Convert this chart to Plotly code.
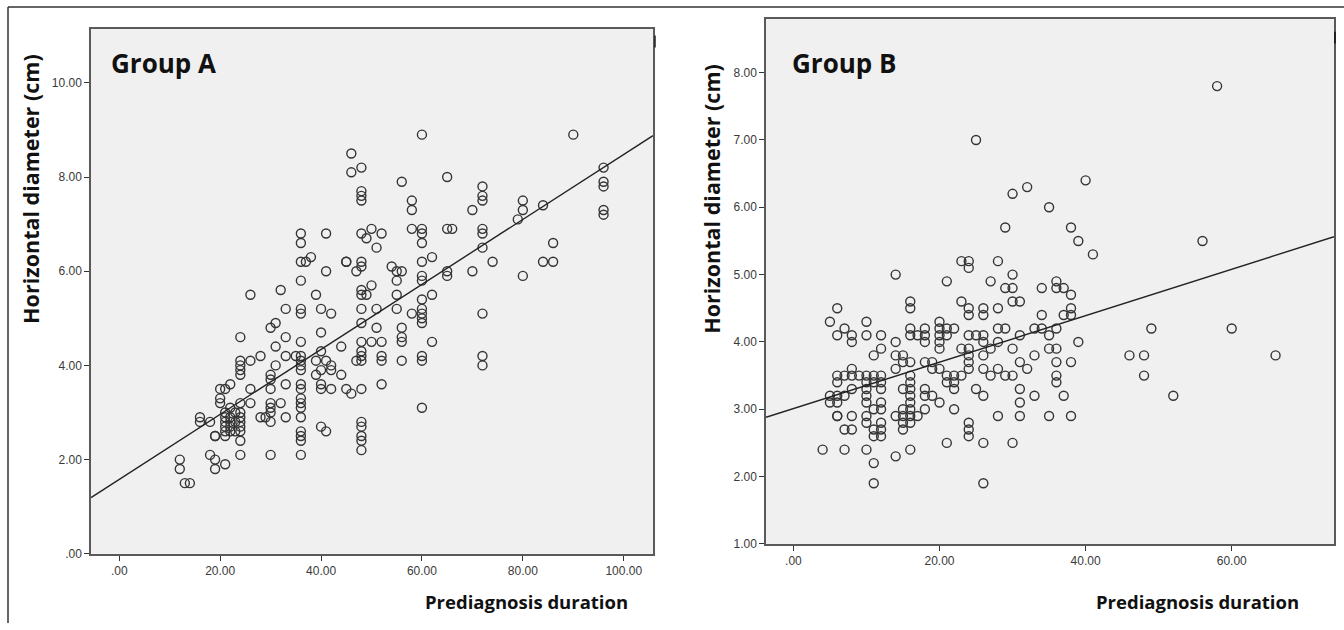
import plotly.graph_objects as go

# ---------------- Group A: prediagnosis duration vs horizontal diameter ----------------
a_cols = {
    12: [2.0, 1.8],
    13: [1.5],
    14: [1.5],
    16: [2.9, 2.8],
    18: [2.8, 2.1],
    19: [2.5, 2.5, 2.0, 1.8],
    20: [3.5, 3.3, 3.2],
    21: [3.5, 3.0, 2.9, 2.8, 2.7, 2.6, 2.5, 1.9],
    22: [3.6, 3.1, 2.9, 2.8, 2.7, 2.6],
    23: [3.0, 2.8, 2.6],
    24: [4.6, 4.1, 4.0, 3.9, 3.8, 3.2, 3.0, 2.9, 2.8, 2.7, 2.6, 2.4, 2.1],
    26: [5.5, 4.1, 3.5, 3.2],
    28: [4.2, 2.9],
    29: [2.9],
    30: [4.8, 3.8, 3.7, 3.5, 3.2, 3.1, 3.0, 2.8, 2.1],
    31: [4.9, 4.4, 4.0],
    32: [5.6, 3.2],
    33: [5.2, 4.6, 4.2, 3.6, 2.9],
    35: [4.2],
    36: [6.8, 6.6, 6.2, 5.8, 5.2, 5.1, 4.5, 4.2, 4.1, 4.0, 3.9, 3.6, 3.5, 3.3,
         3.2, 3.1, 2.9, 2.6, 2.5, 2.4, 2.1],
    37: [6.2],
    38: [6.3],
    39: [5.5, 4.1, 3.8],
    40: [5.2, 4.7, 4.3, 3.9, 3.6, 3.5, 2.7],
    41: [6.8, 6.0, 4.1, 2.6],
    42: [5.1, 4.0, 3.9, 3.5],
    44: [4.4, 3.8],
    45: [6.2, 6.2, 3.5],
    46: [8.5, 8.1, 3.4],
    47: [6.0, 4.1],
    48: [8.2, 7.7, 7.6, 7.5, 6.8, 6.2, 6.1, 5.6, 5.5, 5.2, 4.9, 4.5, 4.3, 4.2,
         4.1, 3.5, 2.8, 2.7, 2.5, 2.4, 2.2],
    49: [6.7, 5.5],
    50: [6.9, 5.7, 4.5],
    51: [6.5, 5.2, 4.8],
    52: [6.8, 4.5, 4.2, 4.1, 3.6],
    54: [6.1],
    55: [6.0, 5.8, 5.5, 5.2],
    56: [7.9, 6.0, 4.8, 4.6, 4.5, 4.1],
    58: [7.5, 7.3, 6.9, 5.1],
    60: [8.9, 6.9, 6.8, 6.6, 6.2, 5.9, 5.8, 5.4, 5.2, 5.1, 5.0, 4.9, 4.2, 4.1, 3.1],
    62: [6.3, 5.5, 4.5],
    65: [8.0, 6.9, 6.0, 5.9],
    66: [6.9],
    70: [7.3, 6.0],
    72: [7.8, 7.6, 7.5, 6.9, 6.8, 6.5, 5.1, 4.2, 4.0],
    74: [6.2],
    79: [7.1],
    80: [7.5, 7.3, 5.9],
    84: [7.4, 6.2],
    86: [6.6, 6.2],
    90: [8.9],
    96: [8.2, 7.9, 7.8, 7.3, 7.2],
}
a_duration = [d for d, vals in a_cols.items() for _ in vals]
a_diameter = [v for vals in a_cols.values() for v in vals]
a_fit_intercept = 1.58
a_fit_slope = 0.069

# ---------------- Group B ----------------
b_cols = {
    4: [2.4],
    5: [4.3, 3.2, 3.1],
    6: [4.5, 4.1, 3.5, 3.4, 3.2, 3.1, 2.9, 2.9],
    7: [4.2, 3.5, 3.2, 2.7, 2.4],
    8: [4.1, 4.0, 3.6, 3.5, 3.3, 2.9, 2.7],
    9: [3.5],
    10: [4.3, 4.1, 3.5, 3.4, 3.3, 3.2, 3.1, 2.9, 2.8, 2.4],
    11: [3.8, 3.5, 3.4, 3.0, 2.7, 2.6, 2.2, 1.9],
    12: [4.1, 3.9, 3.5, 3.4, 3.3, 3.1, 3.0, 2.8, 2.7, 2.6],
    14: [5.0, 4.0, 3.8, 3.6, 2.9, 2.3],
    15: [3.8, 3.7, 3.3, 3.0, 2.9, 2.8, 2.7],
    16: [4.6, 4.5, 4.2, 4.1, 3.7, 3.5, 3.4, 3.3, 3.2, 3.1, 3.0, 2.9, 2.8, 2.4],
    17: [4.1, 2.9],
    18: [4.2, 4.1, 4.0, 3.7, 3.3, 3.2, 3.0],
    19: [3.7, 3.6, 3.2],
    20: [4.3, 4.2, 4.1, 4.0, 3.9, 3.6, 3.1],
    21: [4.9, 4.2, 4.1, 3.5, 3.4, 2.5],
    22: [4.2, 3.5, 3.4, 3.3, 3.0],
    23: [5.2, 4.6, 3.9, 3.5],
    24: [5.2, 5.1, 4.5, 4.4, 4.1, 3.9, 3.8, 3.7, 3.6, 2.8, 2.7, 2.6],
    25: [7.0, 4.1, 3.3],
    26: [4.5, 4.4, 4.1, 4.0, 3.8, 3.6, 3.2, 2.5, 1.9],
    27: [4.9, 3.9, 3.5],
    28: [5.2, 4.5, 4.2, 4.0, 3.6, 2.9],
    29: [5.7, 4.8, 4.2, 3.5],
    30: [6.2, 5.0, 4.8, 4.6, 3.9, 3.5, 2.5],
    31: [4.6, 4.1, 3.7, 3.3, 3.1, 2.9],
    32: [6.3, 3.6],
    33: [4.2, 3.8, 3.2],
    34: [4.8, 4.4, 4.2],
    35: [6.0, 4.1, 3.9, 2.9],
    36: [4.9, 4.8, 4.2, 3.9, 3.7, 3.5, 3.4],
    37: [4.8, 4.4, 3.2],
    38: [5.7, 4.7, 4.5, 4.4, 3.7, 2.9],
    39: [5.5, 4.0],
    40: [6.4],
    41: [5.3],
    46: [3.8],
    48: [3.8, 3.5],
    49: [4.2],
    52: [3.2],
    56: [5.5],
    58: [7.8],
    60: [4.2],
    66: [3.8],
}
b_duration = [d for d, vals in b_cols.items() for _ in vals]
b_diameter = [v for vals in b_cols.values() for v in vals]
b_fit_intercept = 3.01
b_fit_slope = 0.0345

# axis ranges and tick labels
a_xrange = [-5.6, 105.8]
a_yrange = [0, 11.15]
b_xrange = [-3.75, 74.0]
b_yrange = [1, 8.8]
a_xticks = [0, 20, 40, 60, 80, 100]
a_xtext = [".00", "20.00", "40.00", "60.00", "80.00", "100.00"]
a_yticks = [0, 2, 4, 6, 8, 10]
a_ytext = [".00", "2.00", "4.00", "6.00", "8.00", "10.00"]
b_xticks = [0, 20, 40, 60]
b_xtext = [".00", "20.00", "40.00", "60.00"]
b_yticks = [1, 2, 3, 4, 5, 6, 7, 8]
b_ytext = ["1.00", "2.00", "3.00", "4.00", "5.00", "6.00", "7.00", "8.00"]

W, H = 1344, 630
MARK = dict(symbol="circle-open", size=9, color="#353535", line=dict(width=1.4, color="#353535"))
FIT = dict(color="#222222", width=1.4)

fig = go.Figure()
fig.add_trace(go.Scatter(x=a_duration, y=a_diameter, mode="markers", marker=MARK,
                         xaxis="x", yaxis="y", showlegend=False))
fig.add_trace(go.Scatter(x=a_xrange, y=[a_fit_intercept + a_fit_slope * v for v in a_xrange],
                         mode="lines", line=FIT, xaxis="x", yaxis="y", showlegend=False))
fig.add_trace(go.Scatter(x=b_duration, y=b_diameter, mode="markers", marker=MARK,
                         xaxis="x2", yaxis="y2", showlegend=False))
fig.add_trace(go.Scatter(x=b_xrange, y=[b_fit_intercept + b_fit_slope * v for v in b_xrange],
                         mode="lines", line=FIT, xaxis="x2", yaxis="y2", showlegend=False))

def px_x(p):
    return p / W

def px_y(p):
    return 1 - p / H

axis_common = dict(showline=True, mirror=True, linecolor="#5a5a5a", linewidth=1.5,
                   ticks="outside", ticklen=5, tickwidth=1.2, tickcolor="#333333",
                   showgrid=False, zeroline=False,
                   tickfont=dict(family="Liberation Sans, Arial", size=12, color="#3a3a3a"))

fig.update_layout(
    width=W, height=H, margin=dict(l=0, r=0, t=0, b=0),
    paper_bgcolor="white", plot_bgcolor="#f0f0f0",
    xaxis=dict(domain=[px_x(91), px_x(653)], range=a_xrange, tickvals=a_xticks,
               ticktext=a_xtext, anchor="y", **axis_common),
    yaxis=dict(domain=[px_y(560), px_y(29)], range=a_yrange, tickvals=a_yticks,
               ticktext=a_ytext, anchor="x", **axis_common),
    xaxis2=dict(domain=[px_x(766), px_x(1334)], range=b_xrange, tickvals=b_xticks,
                ticktext=b_xtext, anchor="y2", **axis_common),
    yaxis2=dict(domain=[px_y(550), px_y(19)], range=b_yrange, tickvals=b_yticks,
                ticktext=b_ytext, anchor="x2", **axis_common),
)

title_font = dict(family="Open Sans", size=18.5, color="#111111", weight=700)
ytitle_font = dict(family="Open Sans", size=21.5, color="#111111", weight=700)
group_font = dict(family="Open Sans", size=26, color="#111111", weight=700)

annotations = [
    dict(text="Group A", x=px_x(109), y=px_y(64), xanchor="left", yanchor="middle", font=group_font),
    dict(text="Group B", x=px_x(790), y=px_y(64), xanchor="left", yanchor="middle", font=group_font),
    dict(text="Horizontal diameter (cm)", x=px_x(31), y=px_y(191), textangle=-90,
         xanchor="center", yanchor="middle", font=ytitle_font),
    dict(text="Horizontal diameter (cm)", x=px_x(712), y=px_y(201), textangle=-90,
         xanchor="center", yanchor="middle", font=ytitle_font),
    dict(text="Prediagnosis duration", x=px_x(630), y=px_y(608), xanchor="right",
         yanchor="middle", font=title_font),
    dict(text="Prediagnosis duration", x=px_x(1301), y=px_y(608), xanchor="right",
         yanchor="middle", font=title_font),
]
for a in annotations:
    a.update(xref="paper", yref="paper", showarrow=False)
fig.update_layout(annotations=annotations)

# outer frame lines and small frame marks
shapes = [
    dict(type="line", x0=px_x(8), x1=1, y0=px_y(7), y1=px_y(7), line=dict(color="#333333", width=1.5)),
    dict(type="line", x0=px_x(8), x1=px_x(8), y0=px_y(7), y1=0, line=dict(color="#333333", width=1.5)),
    dict(type="line", x0=px_x(655), x1=px_x(655), y0=px_y(36), y1=px_y(48), line=dict(color="#222222", width=1.5)),
    dict(type="line", x0=px_x(1335), x1=px_x(1335), y0=px_y(32), y1=px_y(44), line=dict(color="#222222", width=2)),
]
for s in shapes:
    s.update(xref="paper", yref="paper")
fig.update_layout(shapes=shapes)

fig.write_html("out.html")
